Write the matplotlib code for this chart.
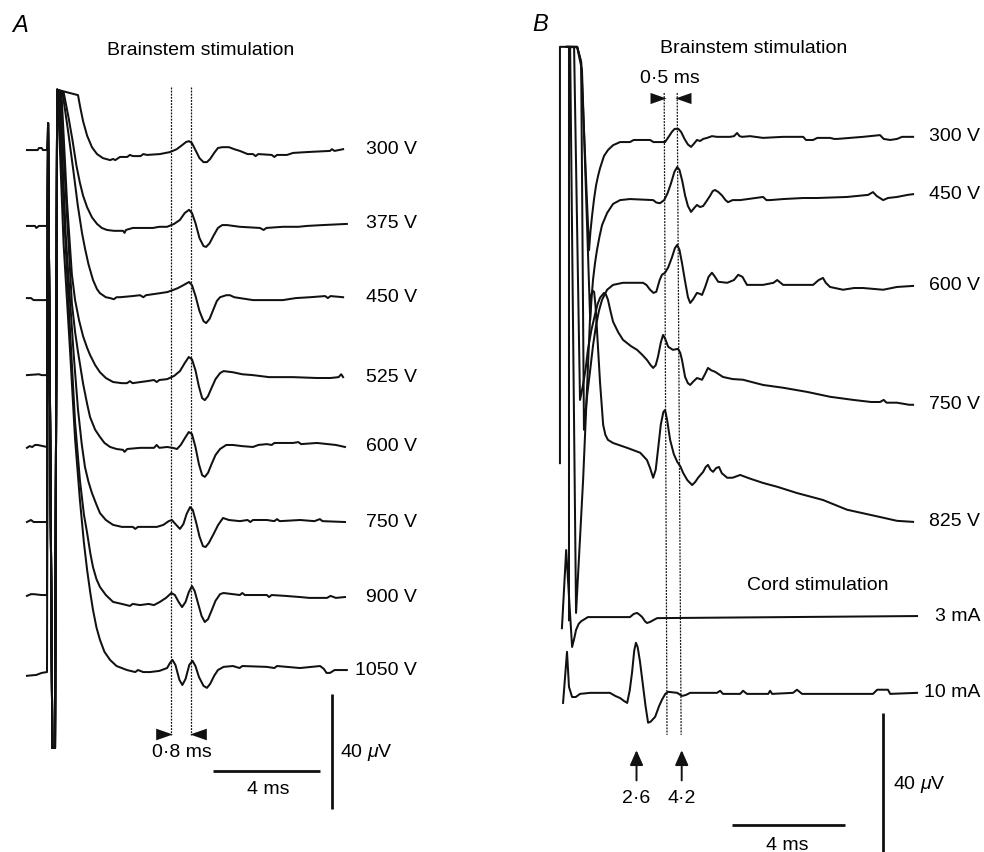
import matplotlib
matplotlib.use("Agg")
import matplotlib.pyplot as plt

plt.rcParams["font.family"] = ["Liberation Sans", "DejaVu Sans"]
plt.rcParams["mathtext.fontset"] = "custom"
plt.rcParams["mathtext.rm"] = "Liberation Sans"
plt.rcParams["mathtext.it"] = "Liberation Sans:italic"

INK = "#111111"

# ---------------- Panel A : brainstem stimulation (ms, uV rel. to pre-stimulus baseline) ----------------
A300_T = [-0.75, -0.35, -0.3, -0.2, -0.15, 0.0,
          1.16, 1.24, 1.35, 1.50, 1.68, 1.87, 2.09, 2.36, 2.47, 2.55, 2.73, 3.0, 3.1, 3.21, 3.5, 3.6, 3.74,
          4.22, 4.60, 4.85, 5.05, 5.20, 5.31, 5.42, 5.55, 5.70, 5.85, 5.98, 6.10, 6.25, 6.39, 6.55, 6.80,
          7.0, 7.21, 7.50, 7.70, 7.8, 7.9, 8.4, 8.5, 8.6, 8.97, 9.2, 9.72, 10.58, 10.65, 10.75, 11.07]
A300_UV = [0, 0, 0.7, 0.7, 0, 0,
           19.1, 15.0, 10.0, 5.0, 1.0, -1.4, -2.8, -3.5, -3.1, -3.5, -2.4, -2.4, -1.7, -2.1, -2.1, -1.4, -1.7,
           -1.4, -0.7, 0.3, 1.7, 2.8, 3.1, 2.4, 0, -2.8, -4.2, -4.2, -3.1, -1.0, 0.7, 1.0, 1.0,
           0.3, -0.3, -1.4, -1.4, -2.1, -1.4, -1.7, -2.4, -1.7, -1.7, -1.0, -0.7, -0.3, 0.3, -0.3, 0.3]
A375_T = [-0.75, -0.45, -0.4, -0.3, 0.0,
          0.62, 0.80, 0.95, 1.10, 1.23, 1.35, 1.50, 1.68, 1.87, 2.05, 2.24, 2.5, 2.84, 2.9, 2.95, 3.21,
          3.96, 4.2, 4.49, 4.75, 4.97, 5.15, 5.31, 5.42, 5.55, 5.70, 5.85, 5.95, 6.08, 6.22, 6.39, 6.55,
          6.73, 7.21, 7.96, 8.1, 8.2, 8.82, 9.4, 9.72, 10.3, 11.21]
A375_UV = [0, 0, -0.7, 0, 0,
           46.6, 38.0, 30.0, 21.0, 15.0, 10.5, 6.5, 3.0, 0.7, -0.7, -1.4, -1.7, -1.7, -2.4, -1.4, -0.7,
           -0.7, -0.3, -0.3, 0.7, 2.1, 4.5, 5.6, 4.5, 1.0, -4.2, -7.0, -7.3, -6.0, -3.5, -0.7, 0.3,
           0.3, -0.3, -0.7, -1.4, -0.7, -0.3, -0.3, 0, 0.3, 0.7]
A450_T = [-0.75, -0.6, -0.5, -0.2, 0.0,
          0.58, 0.80, 1.00, 1.15, 1.31, 1.42, 1.55, 1.72, 1.87, 1.98, 2.2, 2.36, 2.5, 2.6, 2.73, 3.2, 3.48,
          3.6, 3.7, 4.22, 4.50, 4.71, 4.90, 5.10, 5.31, 5.42, 5.55, 5.70, 5.85, 5.95, 6.08, 6.21, 6.35,
          6.47, 6.7, 6.84, 7.0, 7.21, 7.70, 8.82, 9.3, 9.83, 10.4, 10.5, 10.6, 11.07]
A450_UV = [0.7, 0.7, 0, 0, 0,
           72.3, 58.0, 44.0, 33.0, 23.3, 18.0, 12.5, 7.0, 3.8, 2.4, 1.0, 0.7, 0.3, 1.0, 1.0, 1.4, 1.7,
           1.0, 1.7, 2.4, 2.8, 3.5, 4.2, 5.2, 6.3, 5.2, 1.5, -3.8, -7.3, -8.0, -6.5, -3.5, -0.3,
           1.0, 1.7, 1.7, 1.0, 0.7, 0, 0, 0.7, 1.0, 1.4, 0.7, 1.4, 1.0]
A525_T = [-0.75, -0.3, -0.2, 0.0,
          0.54, 0.75, 0.93, 1.05, 1.20, 1.35, 1.50, 1.61, 1.80, 1.98, 2.2, 2.47, 2.8, 2.99, 3.1, 3.2, 3.5,
          3.74, 4.0, 4.1, 4.2, 4.49, 4.75, 4.97, 5.15, 5.30, 5.42, 5.55, 5.68, 5.80, 5.90, 6.02, 6.15,
          6.30, 6.47, 6.6, 6.95, 7.3, 7.70, 8.3, 8.82, 9.2, 10.09, 10.6, 10.9, 11.0, 11.07]
A525_UV = [0, 0.3, 0, 0,
           98.4, 60.0, 35.0, 26.1, 19.0, 13.5, 9.5, 7.0, 3.5, 1.0, -1.0, -2.4, -2.8, -2.8, -2.1, -2.8, -2.4,
           -2.1, -1.7, -2.4, -1.7, -1.4, -0.3, 1.4, 4.2, 6.3, 5.5, 1.7, -4.0, -8.0, -8.7, -7.3, -4.5,
           -1.4, 0.7, 1.4, 1.0, 0.3, 0, -0.7, -0.7, -0.7, -1.0, -1.0, -0.7, 0.3, -0.7]
A600_T = [-0.75, -0.65, -0.55, -0.45, -0.35, 0.0,
          0.50, 0.75, 0.93, 1.05, 1.16, 1.35, 1.50, 1.61, 1.80, 1.98, 2.15, 2.36, 2.6, 2.84, 2.9, 3.0, 3.48,
          4.0, 4.1, 4.2, 4.49, 4.70, 4.86, 5.0, 5.15, 5.30, 5.42, 5.55, 5.68, 5.80, 5.90, 6.02, 6.15,
          6.30, 6.47, 6.7, 6.95, 7.3, 7.70, 7.9, 8.22, 8.4, 8.5, 9.20, 9.4, 9.5, 10.09, 10.5, 10.8, 11.14]
A600_UV = [-0.3, 0.3, 0, 0.7, 0.7, 0,
           123.5, 80.0, 50.0, 40.0, 33.0, 22.0, 15.0, 10.4, 6.0, 3.5, 1.4, 0, -0.7, -1.0, -1.7, -0.7, -0.3,
           -0.3, 0.7, -0.3, 0, -0.3, -0.7, 0.7, 3.0, 5.2, 4.5, 0, -6.0, -9.8, -10.4, -9.0, -6.0,
           -2.8, -0.7, 0.7, 0.7, 0.3, 0, 0.7, 1.0, 0.7, 1.4, 1.4, 1.7, 1.0, 1.4, 1.0, 0.7, 0]
A750_T = [-0.75, -0.6, -0.5, 0.0,
          0.47, 0.70, 0.86, 1.0, 1.16, 1.30, 1.42, 1.55, 1.68, 1.85, 1.98, 2.2, 2.47, 2.8, 3.21, 3.3, 3.4,
          4.11, 4.35, 4.55, 4.67, 4.80, 4.97, 5.10, 5.22, 5.35, 5.45, 5.58, 5.70, 5.83, 5.93, 6.05, 6.21,
          6.40, 6.58, 6.8, 7.21, 7.5, 7.6, 7.7, 8.22, 8.5, 8.6, 8.7, 9.46, 10.0, 10.2, 10.3, 11.14]
A750_UV = [0, 0.7, 0, 0,
           149.6, 100.0, 77.2, 58.0, 39.0, 27.0, 19.1, 14.0, 10.1, 6.0, 3.1, 0.7, -1.0, -1.7, -1.7, -2.4, -1.7,
           -1.7, -1.0, 0.3, 0.7, -0.7, -2.4, -0.7, 2.8, 5.2, 4.2, -0.3, -5.0, -8.4, -8.7, -7.3, -4.5,
           -1.0, 1.4, 0.7, 0.3, 0.7, 0, 0.7, 0.7, 0.3, 1.0, 0.3, 0.7, 0.3, 1.0, 0.3, 0]
A900_T = [-0.75, -0.6, -0.5, -0.2, 0.0,
          0.43, 0.65, 0.86, 1.05, 1.23, 1.38, 1.50, 1.62, 1.72, 1.85, 1.98, 2.2, 2.47, 2.8, 3.1, 3.2, 3.48,
          3.8, 4.0, 4.22, 4.45, 4.65, 4.78, 4.92, 5.05, 5.18, 5.30, 5.42, 5.52, 5.65, 5.78, 5.90, 6.02,
          6.15, 6.30, 6.47, 6.6, 6.95, 7.21, 7.3, 7.4, 8.22, 8.3, 8.4, 8.9, 9.46, 9.8, 10.47, 10.6, 10.8,
          11.14]
A900_UV = [-0.3, 0.3, 0.3, 0, 0,
           175.0, 130.0, 92.2, 60.0, 40.0, 28.0, 21.6, 14.5, 9.7, 5.5, 2.8, 0, -2.4, -3.1, -3.8, -3.1, -3.5,
           -3.1, -3.5, -2.4, -1.0, 0.7, 0, -2.4, -4.2, -2.4, 1.0, 3.1, 1.4, -3.0, -7.3, -9.4, -8.4,
           -5.5, -2.0, 0.3, 0.7, 0.3, 0, 0.7, 0, 0, -0.7, 0, -0.3, -0.7, -1.0, -1.0, -0.3, -1.0,
           -0.7]
A1050_T = [-0.75, -0.4, -0.2, 0.0,
           0.40, 0.62, 0.86, 1.05, 1.23, 1.38, 1.50, 1.62, 1.72, 1.85, 1.98, 2.15, 2.36, 2.6, 2.99, 3.3, 3.4,
           3.6, 3.85, 4.2, 4.49, 4.60, 4.69, 4.80, 4.95, 5.06, 5.18, 5.32, 5.44, 5.55, 5.68, 5.85, 5.98,
           6.10, 6.25, 6.39, 6.6, 6.95, 7.2, 7.3, 8.22, 8.5, 8.6, 9.46, 10.21, 10.35, 10.45, 10.58, 10.75,
           11.21]
A1050_UV = [-0.3, 0, 0.7, 1.0,
            202.8, 150.0, 113.0, 82.0, 60.9, 46.0, 36.5, 28.5, 22.6, 16.5, 12.2, 8.0, 5.2, 3.1, 1.7, 1.0, 1.7,
            1.0, 1.0, 1.4, 2.4, 4.2, 5.2, 3.5, -1.7, -3.5, -1.4, 3.5, 4.9, 3.1, -0.7, -3.8, -4.5,
            -3.1, -0.3, 1.7, 2.8, 3.1, 2.4, 3.1, 2.8, 2.4, 3.1, 2.4, 3.1, 2.1, 0.7, 0.7, 1.7,
            1.7]

A_LABELS = ["300 V", "375 V", "450 V", "525 V", "600 V", "750 V", "900 V", "1050 V"]
A_OFFSETS = [0, -26.4, -52.2, -78.3, -103.3, -129.4, -154.8, -182.6]
# saturated stimulus artefact shared by all traces (absolute uV on the panel)
ART_A_T = [0.04, 0.20, 0.30, 0.38]
ART_A_UV = [9.4, -208.0, -208.0, 21.0]
A_MARKS_MS = [4.62, 5.38]          # 0.8 ms apart

# ---------------- Panel B : brainstem and cord stimulation ----------------
B300_T = [-0.11, -0.11, 0.50, 0.64, 0.92, 0.97, 1.03, 1.10, 1.17, 1.24, 1.31, 1.45, 1.59, 1.77, 2.02,
          2.37, 2.5, 3.08, 3.2, 3.43, 3.61, 3.72, 3.85, 3.95, 4.08, 4.18, 4.30, 4.42, 4.53, 4.62, 4.74,
          4.85, 4.96, 5.1, 5.27, 5.45, 5.91, 6.05, 6.16, 6.25, 6.34, 6.62, 7.08, 7.79, 8.50, 8.6, 8.85,
          9.0, 9.45, 9.6, 9.70, 10.62, 11.22, 11.35, 11.58, 11.82, 12.0, 12.39]
B300_UV = [-92.7, 27.1, 27.1, 22.7, -31.4, -26.0, -21.3, -16.5, -12.7, -10.0, -7.8, -4.3, -2.6, -1.2, -0.3,
           -0.3, 0.3, 0.3, -0.3, -0.3, -0.3, 1.0, 2.6, 3.5, 3.5, 2.6, 0.6, -1.0, -1.7, -0.9, 0.3,
           0.0, 0.6, 0.9, 1.4, 1.2, 1.2, 1.4, 2.3, 1.4, 1.2, 1.4, 0.9, 1.2, 1.2, 0.3, 0.3,
           0.9, 0.9, 0.6, 0.6, 1.2, 1.7, 0.6, 0.3, 0.6, 1.2, 1.2]
B450_T = [0.21, 0.21, 0.50, 0.67, 0.96, 1.01, 1.06, 1.13, 1.20, 1.29, 1.38, 1.56, 1.77, 2.02, 2.37,
          3.19, 3.30, 3.43, 3.58, 3.70, 3.82, 3.94, 4.04, 4.12, 4.22, 4.32, 4.42, 4.53, 4.64, 4.74, 4.85,
          4.96, 5.08, 5.20, 5.30, 5.38, 5.50, 5.63, 5.75, 5.84, 6.0, 6.27, 7.08, 7.20, 7.33, 7.79, 8.50,
          9.0, 10.05, 10.8, 10.97, 11.10, 11.33, 11.5, 11.82, 12.2, 12.39]
B450_UV = [-121.2, 43.7, 43.7, 37.1, -34.8, -28.5, -23.3, -18.5, -14.7, -10.8, -7.5, -4.0, -1.4, -0.3, 0,
           -0.3, -1.0, -1.2, -0.3, 1.7, 4.5, 7.8, 9.2, 8.4, 5.2, 1.0, -2.0, -3.7, -2.6, -1.7, -2.3,
           -2.0, -0.6, 0.9, 2.3, 2.6, 2.0, 1.0, -0.3, -0.9, -0.3, -0.3, 0.6, -0.3, -0.3, 0, 0.3,
           0.3, 0.6, 1.2, 2.0, 0.9, -0.3, 0.3, 0.6, 1.2, 1.4]
B600_T = [0.14, 0.50, 0.64, 0.74, 0.85, 0.96, 1.06, 1.17, 1.27, 1.38, 1.56, 1.77, 2.12, 2.83, 2.95,
          3.08, 3.20, 3.30, 3.42, 3.50, 3.61, 3.72, 3.85, 3.96, 4.04, 4.12, 4.21, 4.32, 4.42, 4.50, 4.60,
          4.74, 4.85, 4.92, 5.03, 5.15, 5.27, 5.38, 5.49, 5.81, 6.05, 6.20, 6.35, 6.51, 7.08, 7.45, 7.58,
          7.70, 7.79, 8.85, 9.05, 9.20, 9.30, 9.45, 9.91, 10.3, 10.62, 11.33, 11.82, 12.39]
B600_UV = [68.5, 68.5, 64.2, -41.7, -32.0, -24.5, -17.5, -11.5, -7.5, -4.3, -1.4, 0, 0.6, 0.6, 0,
           -1.4, -2.3, -2.0, 1.4, 2.9, 3.5, 5.0, 7.8, 10.6, 11.5, 10.1, 6.3, 1.0, -3.5, -5.2, -4.2,
           -2.3, -2.6, -2.9, -0.6, 2.3, 3.5, 2.3, 0.9, 0.6, 1.4, 2.9, 2.3, 0, 0, 0.6, 1.4,
           0.6, 0, 0, 1.4, 2.0, 0.6, -0.6, -1.4, -0.9, -0.9, -1.4, -0.6, -0.3]
B750_T = [0.14, 0.39, 0.60, 0.70, 0.80, 0.88, 1.0, 1.13, 1.22, 1.31, 1.45, 1.52, 1.59, 1.68, 1.77,
          1.95, 2.12, 2.40, 2.62, 2.80, 2.97, 3.10, 3.19, 3.28, 3.36, 3.46, 3.54, 3.62, 3.72, 3.89, 4.07,
          4.15, 4.21, 4.32, 4.42, 4.50, 4.60, 4.74, 4.92, 5.03, 5.13, 5.25, 5.38, 5.66, 6.0, 6.37, 7.08,
          7.79, 8.64, 9.45, 10.27, 10.9, 11.22, 11.35, 11.45, 11.82, 12.25, 12.39]
B750_UV = [103.6, 103.6, 2.0, 6.0, 11.0, 16.4, 22.0, 26.5, 29.5, 31.4, 32.8, 32.3, 30.8, 27.5, 24.5,
           21.5, 19.3, 17.5, 16.4, 15.0, 13.5, 12.0, 11.2, 12.0, 14.4, 18.5, 20.7, 19.5, 17.3, 16.4, 16.7,
           15.5, 13.5, 8.6, 6.8, 6.3, 7.2, 8.3, 7.8, 9.5, 11.2, 10.5, 10.1, 8.6, 8.0, 7.8, 6.3,
           5.5, 4.3, 2.9, 2.0, 1.4, 1.4, 2.0, 1.2, 1.2, 0.6, 0.6]
B825_T = [0.11, 0.25, 0.46, 0.71, 0.99, 1.05, 1.10, 1.15, 1.20, 1.31, 1.42, 1.50, 1.59, 1.77, 2.27,
          2.73, 2.97, 3.08, 3.19, 3.28, 3.36, 3.46, 3.55, 3.61, 3.68, 3.79, 3.92, 4.04, 4.15, 4.25, 4.40,
          4.57, 4.68, 4.78, 4.96, 5.05, 5.13, 5.22, 5.31, 5.42, 5.52, 5.62, 5.81, 6.0, 6.27, 6.6, 7.08,
          7.58, 8.28, 9.20, 10.05, 11.22, 11.82, 12.39]
B825_UV = [136.7, 136.7, -26.2, 12.1, 65.3, 66.5, 66.2, 62.0, 55.3, 40.0, 27.9, 25.0, 23.6, 22.7, 21.3,
           19.9, 17.8, 15.5, 12.7, 15.0, 20.7, 28.0, 31.6, 32.2, 29.5, 23.6, 19.5, 17.3, 16.0, 14.1, 12.0,
           10.6, 11.5, 12.7, 14.4, 15.8, 16.4, 15.0, 14.4, 15.5, 15.8, 14.0, 12.7, 12.7, 13.5, 12.5, 11.2,
           10.1, 8.3, 6.3, 3.5, 1.4, 0.3, 0]
C3_T = [-0.04, 0.11, 0.32, 0.40, 0.46, 0.55, 0.64, 0.88, 2.37, 2.50, 2.62, 2.72, 2.80, 2.90, 2.97,
        3.08, 3.19, 3.33, 12.53]
C3_UV = [-3.2, 19.3, -8.6, -6.0, -3.7, -2.0, -1.2, 0, 0, 0.9, 1.2, 0.6, 0, -1.2, -1.7,
         -1.4, -0.9, -0.3, 0.3]
C10_T = [0.0, 0.14, 0.21, 0.32, 0.45, 0.60, 0.96, 1.66, 1.85, 2.02, 2.15, 2.27, 2.36, 2.44, 2.52,
         2.58, 2.64, 2.72, 2.82, 2.92, 3.01, 3.10, 3.26, 3.40, 3.50, 3.62, 3.72, 4.04, 4.21, 4.35, 4.50,
         5.45, 5.56, 5.66, 6.27, 6.37, 6.51, 7.26, 7.33, 7.40, 8.14, 8.28, 8.46, 10.97, 11.12, 11.50,
         11.58, 12.53]
C10_UV = [-2.6, 12.1, 2.0, -0.9, -0.9, 0, 0.3, 0.3, -0.6, -1.2, -2.0, -2.6, 1.0, 6.0, 12.5,
          14.7, 13.5, 9.5, 3.0, -3.5, -8.3, -8.0, -6.6, -3.5, -1.7, 0, 0.6, 0.3, -0.6, -0.3, 0.3,
          0.3, 0.9, 0, 0, 0.9, 0, 0, 0.9, 0, 0.3, 1.2, 0, 0, 1.2, 1.2,
          0, 0.3]

B_LABELS = ["300 V", "450 V", "600 V", "750 V", "825 V", "3 mA", "10 mA"]
B_OFFSETS = [0, -16.7, -41.4, -76.5, -109.6, -137.0, -159.1]
B_MARKS_TOP = [3.58, 4.04]         # 0.5 ms apart
B_MARKS_BOTTOM = [3.68, 4.18]
B_ARROWS = [2.6, 4.2]
B_ARROW_TEXT = ["2·6", "4·2"]

TRI_R = [(-1, -0.7), (1, 0), (-1, 0.7), (-1, -0.7)]
TRI_L = [(1, -0.7), (-1, 0), (1, 0.7), (1, -0.7)]
LW = 1.45


fig = plt.figure(figsize=(9.84, 8.52), dpi=100)

# ---------- A ----------
ax = fig.add_axes([0, 0, 1, 1])
ax.set_xlim(-1.757, 35.03)
ax.set_ylim(-244.2, 52.2)
ax.axis("off")
a_t = [A300_T, A375_T, A450_T, A525_T, A600_T, A750_T, A900_T, A1050_T]
a_uv = [A300_UV, A375_UV, A450_UV, A525_UV, A600_UV, A750_UV, A900_UV, A1050_UV]
for t, uv, off, lab in zip(a_t, a_uv, A_OFFSETS, A_LABELS):
    pre = [(ti, v + off) for ti, v in zip(t, uv) if ti <= 0]
    post = [(ti, v + off) for ti, v in zip(t, uv) if ti > 0]
    xs, ys = zip(*(pre + list(zip(ART_A_T, ART_A_UV)) + post))
    ax.plot(xs, ys, color=INK, lw=LW, solid_joinstyle="round")
    ax.text(13.83, post[-1][1], lab, ha="right", va="center", fontsize=14)

for m in A_MARKS_MS:
    ax.plot([m, m], [21.9, -203.5], color=INK, lw=0.9, ls=(0, (1.5, 1.0)))
ax.plot(A_MARKS_MS[0] - 0.25, -203.1, marker=TRI_R, ms=12, color=INK, mew=0)
ax.plot(A_MARKS_MS[1] + 0.25, -203.1, marker=TRI_L, ms=12, color=INK, mew=0)
ax.text(5.03, -209.7, "0·8 ms", ha="center", va="center", fontsize=14)

ax.plot([6.21, 10.21], [-216.0, -216.0], color=INK, lw=2.0, solid_capstyle="butt")
ax.text(8.26, -222.6, "4 ms", ha="center", va="center", fontsize=14)
ax.plot([10.65, 10.65], [-189.2, -229.2], color=INK, lw=2.0, solid_capstyle="butt")
ax.text(10.95, -209.7, r"40 $\mathit{\mu}$V", ha="left", va="center", fontsize=14)

ax.text(5.76, 34.8, "Brainstem stimulation", ha="center", va="center", fontsize=14)
ax.text(-1.31, 43.5, "A", ha="left", va="center", fontsize=17, style="italic")

# ---------- B ----------
bx = fig.add_axes([0, 0, 1, 1])
bx.patch.set_alpha(0)
bx.set_xlim(-19.93, 14.90)
bx.set_ylim(-204.6, 40.58)
bx.axis("off")
b_t = [B300_T, B450_T, B600_T, B750_T, B825_T, C3_T, C10_T]
b_uv = [B300_UV, B450_UV, B600_UV, B750_UV, B825_UV, C3_UV, C10_UV]
for t, uv, off, lab in zip(b_t, b_uv, B_OFFSETS, B_LABELS):
    bx.plot(t, [v + off for v in uv], color=INK, lw=LW, solid_joinstyle="round")
    bx.text(14.76, uv[-1] + off, lab, ha="right", va="center", fontsize=14)

for top, bot in zip(B_MARKS_TOP, B_MARKS_BOTTOM):
    bx.plot([top, bot], [13.8, -170.9], color=INK, lw=0.9, ls=(0, (1.5, 1.0)))
bx.plot(B_MARKS_TOP[0] - 0.22, 12.4, marker=TRI_R, ms=11.5, color=INK, mew=0)
bx.plot(B_MARKS_TOP[1] + 0.22, 12.4, marker=TRI_L, ms=11.5, color=INK, mew=0)
bx.text(3.79, 18.1, "0·5 ms", ha="center", va="center", fontsize=14)

for a, s in zip(B_ARROWS, B_ARROW_TEXT):
    bx.annotate("", xy=(a, -175.3), xytext=(a, -184.0),
                arrowprops=dict(arrowstyle="-|>,head_length=0.9,head_width=0.4",
                                color=INK, lw=1.4, shrinkA=0, shrinkB=0))
    bx.text(a, -189.1, s, ha="center", va="center", fontsize=14)

bx.plot([5.98, 9.98], [-196.8, -196.8], color=INK, lw=2.0, solid_capstyle="butt")
bx.text(7.93, -202.6, "4 ms", ha="center", va="center", fontsize=14)
bx.plot([11.33, 11.33], [-164.6, -204.6], color=INK, lw=2.0, solid_capstyle="butt")
bx.text(11.68, -185.3, r"40 $\mathit{\mu}$V", ha="left", va="center", fontsize=14)

bx.text(6.73, 26.5, "Brainstem stimulation", ha="center", va="center", fontsize=14)
bx.text(9.03, -127.8, "Cord stimulation", ha="center", va="center", fontsize=14)
bx.text(-1.10, 33.4, "B", ha="left", va="center", fontsize=17, style="italic")

fig.savefig("out.png", dpi=100)
